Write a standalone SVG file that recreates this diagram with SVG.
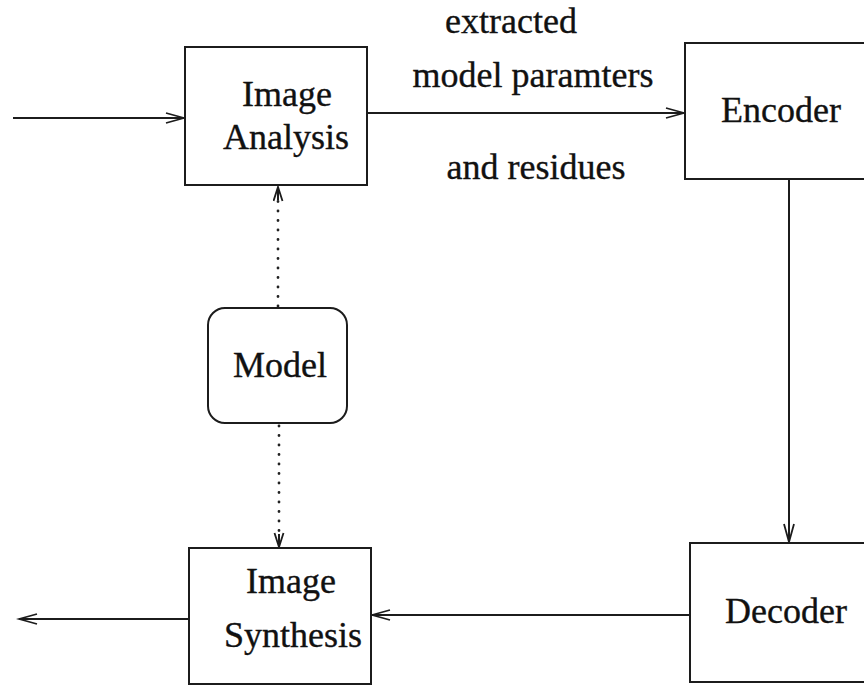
<svg xmlns="http://www.w3.org/2000/svg" width="864" height="685" viewBox="0 0 864 685">
  <style>
    .box { fill: #fff; stroke: #1c1c1c; stroke-width: 2; }
    .lbl { font-family: "Liberation Serif", "Times New Roman", serif; font-size: 36px; fill: #111; stroke: #111; stroke-width: 0.35; text-anchor: middle; }
    .flow { fill: none; stroke: #1c1c1c; stroke-width: 2; }
    .dot { fill: none; stroke: #222; stroke-width: 2.8; stroke-dasharray: 0 9.5; stroke-linecap: round; }
  </style>
  <defs>
    <marker id="arr" markerUnits="userSpaceOnUse" markerWidth="22" markerHeight="14" refX="19" refY="6" orient="auto">
      <path d="M1,1 L19,6 L1,11" fill="none" stroke="#1c1c1c" stroke-width="1.8"/>
    </marker>
    <marker id="arrSmall" markerUnits="userSpaceOnUse" markerWidth="18" markerHeight="12" refX="15" refY="5.5" orient="auto">
      <path d="M1,1 L15,5.5 L1,10" fill="none" stroke="#1c1c1c" stroke-width="1.8"/>
    </marker>
  </defs>

  <rect width="864" height="685" fill="#fff"/>

  <!-- connectors -->
  <g id="connectors">
    <line class="flow" x1="13" y1="118" x2="184" y2="118" marker-end="url(#arr)"/>
    <line class="flow" x1="367" y1="113" x2="684" y2="113" marker-end="url(#arr)"/>
    <line class="flow" x1="789" y1="179" x2="789" y2="542" marker-end="url(#arr)"/>
    <line class="flow" x1="690" y1="615" x2="372" y2="615" marker-end="url(#arr)"/>
    <line class="flow" x1="189" y1="619" x2="19" y2="619" marker-end="url(#arr)"/>
    <line class="dot" x1="278" y1="306" x2="278" y2="196"/>
    <line class="flow" x1="278" y1="200" x2="278" y2="187" stroke-width="0" marker-end="url(#arrSmall)"/>
    <line class="dot" x1="279" y1="426" x2="279" y2="538"/>
    <line class="flow" x1="279" y1="534" x2="279" y2="547" stroke-width="0" marker-end="url(#arrSmall)"/>
  </g>

  <!-- edge labels -->
  <g id="edge-labels">
    <text class="lbl" x="511" y="33">extracted</text>
    <text class="lbl" x="533" y="87">model paramters</text>
    <text class="lbl" x="536" y="179">and residues</text>
  </g>

  <g id="image-analysis">
    <rect class="box" x="185" y="47" width="182" height="138"/>
    <text class="lbl" x="287" y="106">Image</text>
    <text class="lbl" x="286" y="149">Analysis</text>
  </g>

  <g id="encoder">
    <rect class="box" x="685" y="43" width="200" height="136"/>
    <text class="lbl" x="781" y="122">Encoder</text>
  </g>

  <g id="model">
    <rect class="box" x="208" y="308" width="139" height="115" rx="17" ry="17"/>
    <text class="lbl" x="280" y="377">Model</text>
  </g>

  <g id="decoder">
    <rect class="box" x="690" y="543" width="200" height="139"/>
    <text class="lbl" x="786" y="623">Decoder</text>
  </g>

  <g id="image-synthesis">
    <rect class="box" x="189" y="548" width="182" height="136"/>
    <text class="lbl" x="291" y="593">Image</text>
    <text class="lbl" x="293" y="647">Synthesis</text>
  </g>
</svg>
